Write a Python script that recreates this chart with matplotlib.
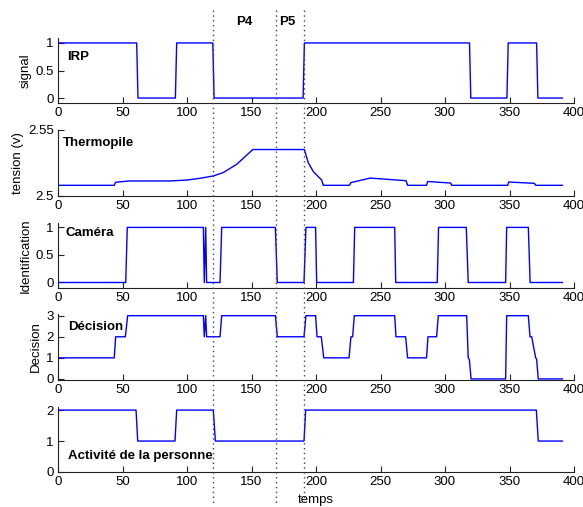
import matplotlib
matplotlib.use("Agg")
import matplotlib.pyplot as plt
from matplotlib.lines import Line2D
from matplotlib.transforms import blended_transform_factory

plt.rcParams['font.family'] = ['Liberation Sans', 'DejaVu Sans']

# ---- data (breakpoints) ----
irp_t = [0, 61, 62, 91, 92, 120, 121, 190, 191, 319, 320, 348, 349, 371, 372, 391]
irp_v = [1, 1, 0, 0, 1, 1, 0, 0, 1, 1, 0, 0, 1, 1, 0, 0]

thermo_t = [0, 43.6, 44.6, 55, 87, 100, 110, 120.4, 128, 138.5, 145, 151, 191, 194, 198,
            204.4, 205.7, 225.8, 227, 242, 269.8, 271, 285.7, 286.6, 304.4, 305.2,
            348.6, 349.4, 369.3, 370.3, 391]
thermo_v = [2.5081, 2.5081, 2.5104, 2.5114, 2.5114, 2.5121, 2.5134, 2.5152, 2.5177, 2.524,
            2.5298, 2.5352, 2.5352, 2.5252, 2.5184, 2.5121, 2.5081, 2.5081, 2.5101, 2.5136,
            2.5116, 2.5081, 2.5081, 2.511, 2.5098, 2.5081, 2.5081, 2.5106, 2.5096, 2.5081, 2.5081]

cam_t = [0, 52.5, 53.7, 112.7, 113.4, 114.5, 115.2, 125.6, 126.9, 168.5, 170, 190.7, 192.2,
         199.7, 200.5, 229, 230, 261, 261.8, 294, 295, 316.5, 318, 347, 347.8, 364.6, 366, 391]
cam_v = [0, 0, 1, 1, 0, 1, 0, 0, 1, 1, 0, 0, 1, 1, 0, 0, 1, 1, 0, 0, 1, 1, 0, 0, 1, 1, 0, 0]

dec_t = [0, 43.6, 44.7, 52.2, 54, 112.7, 113.4, 114.5, 115.2, 125.6, 126.9, 168.5, 170,
         190.7, 192.2, 199.7, 200.8, 204.1, 206, 225.6, 227.1, 228.4, 229.7, 261, 262,
         269.5, 271, 285.7, 286.8, 293.5, 294.8, 316.8, 318, 318.9, 320.2, 347, 347.8,
         364.6, 365.9, 367.2, 370.3, 371, 372.3, 391]
dec_v = [1, 1, 2, 2, 3, 3, 2, 3, 2, 2, 3, 3, 2,
         2, 3, 3, 2, 2, 1, 1, 2, 2, 3, 3, 2,
         2, 1, 1, 2, 2, 3, 3, 1.0, 0.92, 0, 0, 3,
         3, 2, 2, 1.0, 0.95, 0, 0]

act_t = [0, 60.5, 61.8, 90.7, 92, 120.4, 122, 190.7, 192, 370.8, 372.3, 391]
act_v = [2, 2, 1, 1, 2, 2, 1, 1, 2, 2, 1, 1]

phase_lines = [120.5, 169, 191]
phase_labels = ["P4", "P5"]
phase_label_x = [144.5, 177.5]

panel_titles = ["IRP", "Thermopile", "Caméra", "Décision", "Activité de la personne"]
ylabels = ["signal", "tension (v)", "Identification", "Decision", ""]
yticks = [[0, 0.5, 1], [2.5, 2.55], [0, 0.5, 1], [0, 1, 2, 3], [0, 1, 2]]
yticklabels = [["0", "0.5", "1"], ["2.5", "2.55"], ["0", "0.5", "1"],
               ["0", "1", "2", "3"], ["0", "1", "2"]]
ylims = [(-0.09, 1.09), (2.5, 2.55), (-0.1, 1.08), (-0.05, 3.08), (0, 2.1)]
xticks = [0, 50, 100, 150, 200, 250, 300, 350, 400]

series = [(irp_t, irp_v), (thermo_t, thermo_v), (cam_t, cam_v), (dec_t, dec_v), (act_t, act_v)]

# ---- layout ----
W, H = 583, 507
fig = plt.figure(figsize=(W / 100, H / 100), dpi=100)
left_px, right_px = 58, 574
panel_px = [(38, 103), (130, 196), (223, 288), (314, 380), (407, 472)]
title_pos = [(0.017, 0.71), (0.01, 0.81), (0.014, 0.84), (0.019, 0.81), (0.02, 0.25)]

axes = []
for i, (top, bot) in enumerate(panel_px):
    ax = fig.add_axes([left_px / W, 1 - bot / H, (right_px - left_px) / W, (bot - top) / H])
    t, v = series[i]
    ax.plot(t, v, color='#0000ff', lw=1.0)
    ax.set_xlim(0, 400)
    ax.set_ylim(*ylims[i])
    ax.set_xticks(xticks)
    ax.set_xticklabels([str(x) for x in xticks])
    ax.set_yticks(yticks[i])
    ax.set_yticklabels(yticklabels[i])
    ax.spines['top'].set_visible(False)
    ax.spines['right'].set_visible(False)
    for s in ('left', 'bottom'):
        ax.spines[s].set_linewidth(0.8)
        ax.spines[s].set_color('#222222')
    ax.tick_params(direction='in', length=4, width=0.8, labelsize=9.5, pad=3,
                   colors='#222222', labelcolor='black')
    if ylabels[i]:
        ax.set_ylabel(ylabels[i], fontsize=9.5, labelpad=3)
    ax.text(title_pos[i][0], title_pos[i][1], panel_titles[i], transform=ax.transAxes,
            fontsize=9.5, fontweight='bold', ha='left', va='center')
    axes.append(ax)

axes[-1].set_xlabel("temps", fontsize=9.5, labelpad=4)

trans = blended_transform_factory(axes[0].transData, fig.transFigure)
for x in phase_lines:
    fig.add_artist(Line2D([x, x], [1 - 10 / H, 1 - 503 / H], transform=trans,
                          color='#444444', lw=1.0, linestyle=(0, (1, 2.5))))
for x, lab in zip(phase_label_x, phase_labels):
    fig.text(x, 1 - 22 / H, lab, transform=trans, fontsize=9.5, fontweight='bold',
             ha='center', va='center')

fig.savefig("out.png", dpi=100)
